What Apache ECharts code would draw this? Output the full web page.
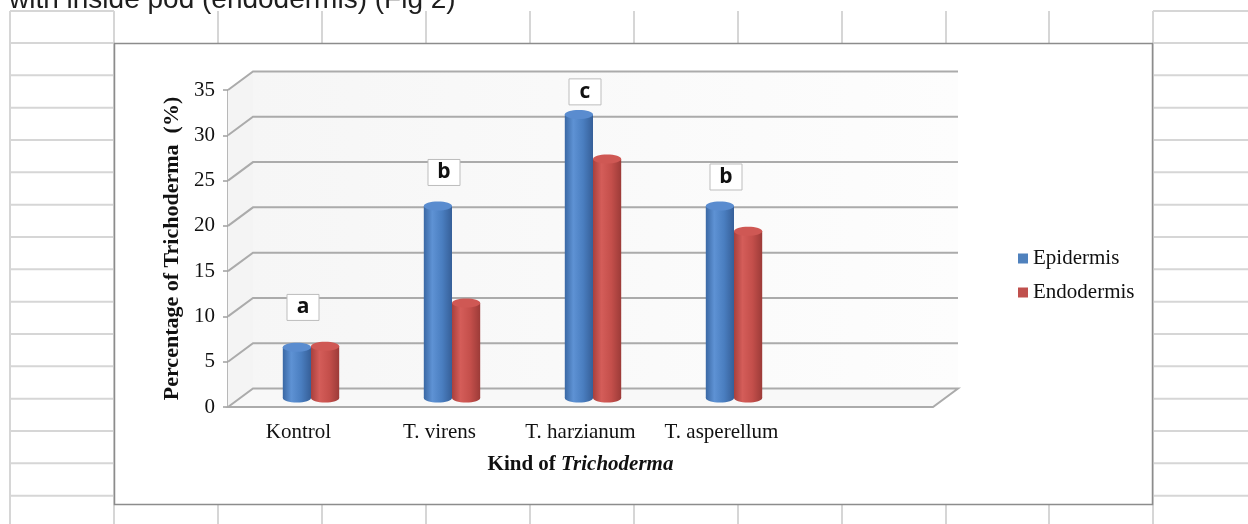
<!DOCTYPE html>
<html>
<head>
<meta charset="utf-8">
<script src="https://cdn.jsdelivr.net/npm/echarts@6/dist/echarts.min.js"></script>
<style>
  html, body { margin: 0; padding: 0; background: #fff; }
  #chart { width: 1248px; height: 524px; }
</style>
</head>
<body>
<div id="chart"></div>
<script>
// data
const categories = ['Kontrol', 'T. virens', 'T. harzianum', 'T. asperellum', '']
const epidermis = [5.6, 21.2, 31.3, 21.2]
const endodermis = [5.7, 10.5, 26.4, 18.4]
const letters = ['a', 'b', 'c', 'b']
const letterLevels = [10.0, 24.9, 33.8, 24.4]
const yTicks = [0, 5, 10, 15, 20, 25, 30, 35]

const serif = 'Liberation Serif'
const depth = [25, -18.5] // back wall offset of the 3d box
const mid = [12.5, -9] // bars stand half way in

const myChart = echarts.init(document.getElementById('chart'))

// spreadsheet cells behind the chart
const cols = [10, 114, 218, 322, 426, 530, 634, 738, 842, 946, 1049, 1153]
const rows = [43, 75.3, 107.7, 140, 172.3, 204.7, 237, 269.3, 301.7, 334, 366.3, 398.7, 431, 463.3, 495.7]
const sheet = []
const cellLine = { stroke: '#d6d6d6', lineWidth: 2 }
cols.forEach((x) => {
  sheet.push({ type: 'line', z: -20, shape: { x1: x, y1: 11, x2: x, y2: 524 }, style: cellLine })
})
sheet.push({ type: 'line', z: -20, shape: { x1: 10, y1: 11, x2: 114, y2: 11 }, style: cellLine })
sheet.push({ type: 'line', z: -20, shape: { x1: 1153, y1: 11, x2: 1248, y2: 11 }, style: cellLine })
rows.forEach((y) => {
  sheet.push({ type: 'line', z: -20, shape: { x1: 10, y1: y, x2: 114, y2: y }, style: cellLine })
  sheet.push({ type: 'line', z: -20, shape: { x1: 1153, y1: y, x2: 1248, y2: y }, style: cellLine })
})
sheet.push({
  type: 'rect', z: -10,
  shape: { x: 114.5, y: 43.5, width: 1038, height: 461 },
  style: { fill: '#fff', stroke: '#8c8c8c', lineWidth: 1.5 },
})
sheet.push({
  type: 'text', z: -10, left: 9, top: -14,
  style: { text: 'with inside pod (endodermis) (Fig 2)', font: '28px "Liberation Sans"', fill: '#1e1e1e' },
})

function renderWalls(params, api) {
  const cs = params.coordSys
  const v = api.value(0)
  const y = api.coord([0, v])[1]
  const left = cs.x
  const right = cs.x + cs.width
  const children = []
  if (v === 0) {
    const yTop = api.coord([0, yTicks[yTicks.length - 1]])[1]
    children.push({
      type: 'rect',
      shape: { x: left + depth[0], y: yTop + depth[1], width: cs.width, height: y - yTop },
      style: { fill: new echarts.graphic.LinearGradient(0, 0, 1, 0, [
        { offset: 0, color: '#f6f6f6' }, { offset: 1, color: '#fdfdfd' },
      ]) },
    })
    children.push({
      type: 'polygon',
      shape: { points: [[left, y], [left + depth[0], y + depth[1]], [left + depth[0], yTop + depth[1]], [left, yTop]] },
      style: { fill: '#f4f4f4' },
    })
    children.push({
      type: 'polygon',
      shape: { points: [[left, y], [left + depth[0], y + depth[1]], [right + depth[0], y + depth[1]], [right, y]] },
      style: { fill: '#f8f8f8', stroke: '#ababab', lineWidth: 2 },
    })
  } else {
    children.push({
      type: 'polyline',
      shape: { points: [[left, y], [left + depth[0], y + depth[1]], [right + depth[0], y + depth[1]]] },
      style: { stroke: '#ababab', lineWidth: 2, fill: null },
    })
  }
  return { type: 'group', children }
}

function cylinder(side, colors) {
  return function (params, api) {
    const i = api.value(0)
    const top = api.coord([i, api.value(1)])
    const base = api.coord([i, 0])
    const w = api.size([1, 0])[0] * 0.2
    const cx = top[0] + side * w / 2 + mid[0]
    const yTop = top[1] + mid[1]
    const yBase = base[1] + mid[1]
    const rx = w / 2
    const ry = 4.5
    const body = new echarts.graphic.LinearGradient(0, 0, 1, 0, [
      { offset: 0, color: colors[0] },
      { offset: 0.3, color: colors[1] },
      { offset: 0.65, color: colors[2] },
      { offset: 1, color: colors[3] },
    ])
    return {
      type: 'group',
      children: [
        { type: 'ellipse', shape: { cx, cy: yBase, rx, ry }, style: { fill: body } },
        { type: 'rect', shape: { x: cx - rx, y: yTop, width: w, height: yBase - yTop }, style: { fill: body } },
        { type: 'ellipse', shape: { cx, cy: yTop, rx, ry }, style: { fill: colors[4] } },
      ],
    }
  }
}

function renderLetter(params, api) {
  const i = api.value(0)
  const p = api.coord([i, api.value(1)])
  const x = p[0] + mid[0] - 8
  const y = p[1] + mid[1]
  return {
    type: 'group',
    children: [
      { type: 'rect', shape: { x: x - 16, y: y - 13, width: 32, height: 26 }, style: { fill: '#fff', stroke: '#bdbdbd', lineWidth: 1 } },
      { type: 'text', style: { x, y, text: letters[i], align: 'center', verticalAlign: 'middle', font: 'bold 21px "Open Sans"', fill: '#111' } },
    ],
  }
}

const option = {
  animation: false,
  graphic: sheet,
  grid: { left: 228, right: 315, top: 90, bottom: 117 },
  legend: {
    orient: 'vertical',
    left: 1013,
    top: 243,
    itemWidth: 10,
    itemHeight: 10,
    itemGap: 13,
    icon: 'rect',
    data: ['Epidermis', 'Endodermis'],
    textStyle: { fontFamily: serif, fontSize: 21, color: '#111' },
  },
  xAxis: {
    type: 'category',
    data: categories,
    axisLine: { show: false },
    axisTick: { show: false },
    axisLabel: { interval: 0, fontFamily: serif, fontSize: 21, color: '#111', margin: 15 },
    name: '{b|Kind of }{bi|Trichoderma}',
    nameLocation: 'middle',
    nameGap: 47,
    nameTextStyle: {
      rich: {
        b: { fontFamily: serif, fontSize: 21, fontWeight: 'bold', color: '#111' },
        bi: { fontFamily: serif, fontSize: 21, fontWeight: 'bold', fontStyle: 'italic', color: '#111' },
      },
    },
  },
  yAxis: {
    type: 'value',
    min: 0,
    max: 35,
    interval: 5,
    splitLine: { show: false },
    axisLine: { show: true, lineStyle: { color: '#a0a0a0', width: 1.5 } },
    axisTick: { show: true, length: 5, lineStyle: { color: '#a0a0a0', width: 1.5 } },
    axisLabel: { fontFamily: serif, fontSize: 21, color: '#111', margin: 13 },
    name: 'Percentage of Trichoderma  (%)',
    nameLocation: 'middle',
    nameRotate: 90,
    nameGap: 45,
    nameTextStyle: { fontFamily: serif, fontSize: 22, fontWeight: 'bold', color: '#111' },
  },
  series: [
    {
      type: 'custom',
      renderItem: renderWalls,
      data: yTicks.map((v) => [v]),
      encode: { y: 0 },
      silent: true,
    },
    {
      name: 'Epidermis',
      type: 'custom',
      itemStyle: { color: '#4F81BD' },
      renderItem: cylinder(-1, ['#3a68a4', '#5e92d4', '#4a7ec0', '#365f98', '#5a8ccf']),
      data: epidermis.map((v, i) => [i, v]),
      encode: { x: 0, y: 1 },
    },
    {
      name: 'Endodermis',
      type: 'custom',
      itemStyle: { color: '#C0504D' },
      renderItem: cylinder(1, ['#a8403d', '#d45d59', '#c44f4b', '#9c3b38', '#cf5854']),
      data: endodermis.map((v, i) => [i, v]),
      encode: { x: 0, y: 1 },
    },
    {
      type: 'custom',
      renderItem: renderLetter,
      data: letterLevels.map((v, i) => [i, v]),
      encode: { x: 0, y: 1 },
      z: 5,
    },
  ],
}
myChart.setOption(option)
</script>
</body>
</html>
